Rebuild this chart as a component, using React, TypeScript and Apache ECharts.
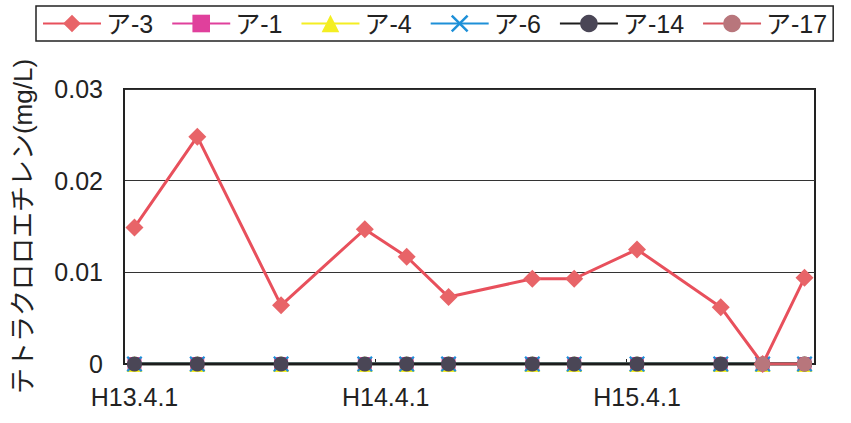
import React, { useEffect, useRef } from "react";
import * as echarts from "echarts";

// sampling months (YYYY-MM)
const sampleMonths = [
  "2001-04", "2001-07", "2001-11", "2002-03", "2002-05", "2002-07",
  "2002-11", "2003-01", "2003-04", "2003-08", "2003-10", "2003-12",
];
const seriesA3 = [0.0149, 0.0248, 0.0064, 0.0147, 0.0117, 0.0073, 0.0093, 0.0093, 0.0125, 0.0062, 0, 0.0094];
const seriesA1 = [0, 0, 0, 0, 0, 0, 0, 0, 0, 0, 0, 0];
const seriesA4 = [0, 0, 0, 0, 0, 0, 0, 0, 0, 0, 0, 0];
const seriesA6 = [0, 0, 0, 0, 0, 0, 0, 0, 0, 0, 0, 0];
const seriesA14 = [0, 0, 0, 0, 0, 0, 0, 0, 0, 0, 0, 0];
const seriesA17 = [null, null, null, null, null, null, null, null, null, null, 0, 0];
const seriesNames = ["ア-3", "ア-1", "ア-4", "ア-6", "ア-14", "ア-17"];
const xTickMonths = ["2001-04", "2002-04", "2003-04"];
const xTickLabels = ["H13.4.1", "H14.4.1", "H15.4.1"];
const yTicks = [0, 0.01, 0.02, 0.03];
const yTitle = "テトラクロロエチレン(mg/L)";

const START = "2001-04";
const monthIndex = (s: string) => {
  const [y, m] = s.split("-").map(Number);
  const [y0, m0] = START.split("-").map(Number);
  return (y - y0) * 12 + (m - m0);
};

const toPairs = (vals: (number | null)[]) =>
  vals.map((v, i) => [monthIndex(sampleMonths[i]), v]).filter((p) => p[1] !== null);

const X_ICON = "path://M0,1 L1,0 L5,4 L9,0 L10,1 L6,5 L10,9 L9,10 L5,6 L1,10 L0,9 L4,5 Z";

export default function App() {
  const ref = useRef<HTMLDivElement>(null);
  useEffect(() => {
    if (!ref.current) return;
    const chart = echarts.init(ref.current, null, { renderer: "svg" });
    const tickIdx = xTickMonths.map(monthIndex);
    const lastIdx = monthIndex(sampleMonths[sampleMonths.length - 1]);
    const fontNum = "'Liberation Sans', Arial, sans-serif";
    const fontJp = "'Liberation Sans', 'Noto Sans CJK JP', sans-serif";
    const mk = (
      name: string,
      data: (number | null)[],
      lineColor: string,
      markerColor: string,
      symbol: string,
      size: number,
      z: number
    ) => ({
      name,
      type: "line",
      data: toPairs(data),
      symbol,
      symbolSize: size,
      z,
      lineStyle: { color: lineColor, width: 3 },
      itemStyle: { color: markerColor, borderColor: markerColor, borderWidth: 0 },
    });
    chart.setOption({
      animation: false,
      backgroundColor: "#ffffff",
      legend: {
        left: 36,
        top: 6,
        padding: [5, 6, 5, 6],
        borderColor: "#222",
        borderWidth: 1.5,
        itemWidth: 58,
        itemHeight: 22,
        itemGap: 18,
        textStyle: { fontFamily: fontJp, fontSize: 25, color: "#222" },
        data: seriesNames,
      },
      grid: { left: 124, right: 36, top: 89, bottom: 59, containLabel: false, show: true, borderColor: "#222", borderWidth: 2 },
      xAxis: {
        type: "value",
        min: -0.5,
        max: lastIdx + 0.5,
        axisLine: { show: true, onZero: false, lineStyle: { color: "#222", width: 2 } },
        axisTick: { show: true, inside: true, length: 5, customValues: tickIdx.map((v) => v - 0.5), lineStyle: { color: "#222" } },
        splitLine: { show: false },
        axisLabel: {
          customValues: tickIdx,
          formatter: (v: number) => {
            const i = tickIdx.indexOf(Math.round(v));
            return i >= 0 ? xTickLabels[i] : "";
          },
          margin: 20,
          fontFamily: fontNum,
          fontSize: 25,
          color: "#222",
        },
      },
      yAxis: {
        type: "value",
        min: yTicks[0],
        max: yTicks[yTicks.length - 1],
        interval: 0.01,
        name: yTitle,
        nameLocation: "middle",
        nameGap: 88,
        nameRotate: 90,
        nameTextStyle: { fontFamily: fontJp, fontSize: 26, color: "#222" },
        axisLine: { show: true, onZero: false, lineStyle: { color: "#222", width: 2 } },
        axisTick: { show: false },
        splitLine: { show: true, lineStyle: { color: "#333", width: 1.2 } },
        axisLabel: {
          formatter: (v: number) => (v === 0 ? "0" : v.toFixed(2)),
          margin: 21,
          fontFamily: fontNum,
          fontSize: 25,
          color: "#222",
        },
      },
      series: [
        mk(seriesNames[0], seriesA3, "#e8505c", "#e86468", "diamond", 18, 6),
        mk(seriesNames[1], seriesA1, "#e0409c", "#e0409c", "rect", 14, 1),
        mk(seriesNames[2], seriesA4, "#f4ee22", "#f4ee22", "triangle", 16, 2),
        mk(seriesNames[3], seriesA6, "#1e90d8", "#1e90d8", X_ICON, 16, 3),
        mk(seriesNames[4], seriesA14, "#1c1c1c", "#4a4656", "circle", 15, 4),
        mk(seriesNames[5], seriesA17, "#d8545e", "#b8767c", "circle", 15, 7),
      ],
    });
    return () => chart.dispose();
  }, []);
  return <div ref={ref} style={{ position: "fixed", left: 0, top: 0, width: 851, height: 423 }} />;
}
